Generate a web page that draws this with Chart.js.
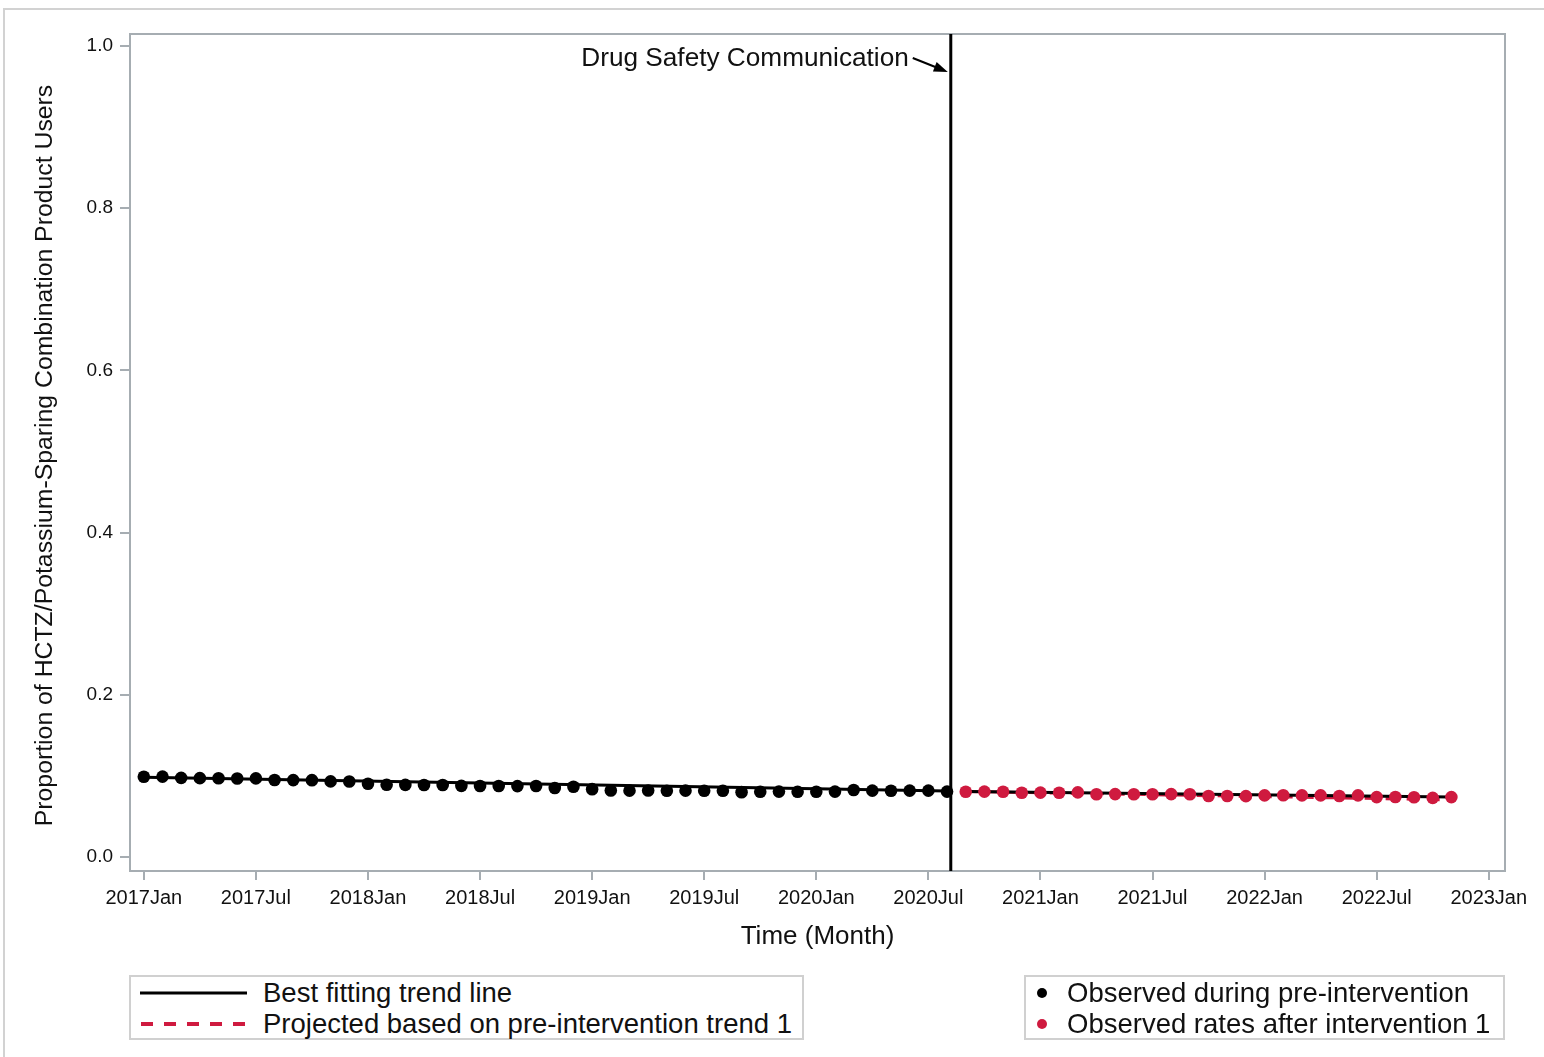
<!DOCTYPE html>
<html>
<head>
<meta charset="utf-8">
<title>HCTZ/Potassium-Sparing Combination Product Users</title>
<script src="https://cdn.jsdelivr.net/npm/chart.js@4.4.1/dist/chart.umd.min.js"></script>
<style>
  body { margin: 0; background: #fff; }
  #wrap { position: relative; width: 1544px; height: 1057px; overflow: hidden;
          font-family: "Liberation Sans", Arial, sans-serif; color: #111; }
  #c { position: absolute; left: 0; top: 0; }
  .outer { position: absolute; left: 3px; top: 8px; width: 1600px; height: 1100px;
           border-top: 2px solid #d2d2d2; border-left: 2px solid #d2d2d2; }
  .legend { position: absolute; box-sizing: border-box; border: 2px solid #d0d0d0; background: #fff; }
  .row { position: absolute; left: 0; height: 31px; line-height: 31px; font-size: 27.5px; white-space: nowrap; }
  .row svg { position: absolute; top: 0; }
  .row span { position: absolute; top: 0; }
</style>
</head>
<body>
<div id="wrap">
  <canvas id="c" width="1544" height="1057"></canvas>
  <div class="outer"></div>
  <div class="legend" id="legLines" style="left:129px;top:975px;width:675px;height:65px;"></div>
  <div class="legend" id="legDots" style="left:1024px;top:975px;width:481px;height:65px;"></div>
</div>
<script>
// Monthly proportions, months counted from 2017Jan
const preValues = [
  0.0990, 0.0991, 0.0975, 0.0972, 0.0970, 0.0968, 0.0969, 0.0950, 0.0948, 0.0947,
  0.0932, 0.0930, 0.0902, 0.0890, 0.0889, 0.0888, 0.0887, 0.0877, 0.0876, 0.0875,
  0.0874, 0.0875, 0.0850, 0.0866, 0.0836, 0.0820, 0.0818, 0.0819, 0.0817, 0.0818,
  0.0816, 0.0817, 0.0799, 0.0805, 0.0806, 0.0804, 0.0805, 0.0806, 0.0825, 0.0818,
  0.0817, 0.0818, 0.0818, 0.0806
];
const postValues = [
  0.0805, 0.0806, 0.0804, 0.0792, 0.0793, 0.0791, 0.0796, 0.0774, 0.0775, 0.0773,
  0.0774, 0.0775, 0.0773, 0.0751, 0.0752, 0.0750, 0.0760, 0.0761, 0.0759, 0.0760,
  0.0751, 0.0760, 0.0738, 0.0739, 0.0737, 0.0729, 0.0738
];
const preStartMonth = 0;    // 2017Jan
const postStartMonth = 44;  // 2020Sep

// Fitted segments: [start value, end value]
const preTrend = [0.0984, 0.0812];
const postTrend = [0.0806, 0.0740];
const projectedTrend = [0.0808, 0.0704];

const interventionMonth = 43.2;
const interventionLabel = 'Drug Safety Communication';

const xTickMonths = [0, 6, 12, 18, 24, 30, 36, 42, 48, 54, 60, 66, 72];
const xTickLabels = ['2017Jan', '2017Jul', '2018Jan', '2018Jul', '2019Jan', '2019Jul', '2020Jan',
                     '2020Jul', '2021Jan', '2021Jul', '2022Jan', '2022Jul', '2023Jan'];
const yTicks = [0.0, 0.2, 0.4, 0.6, 0.8, 1.0];

const xTitle = 'Time (Month)';
const yTitle = 'Proportion of HCTZ/Potassium-Sparing Combination Product Users';

const legendLines = ['Best fitting trend line', 'Projected based on pre-intervention trend 1'];
const legendDots = ['Observed during pre-intervention', 'Observed rates after intervention 1'];

const RED = '#cf1a3f';
const FRAME = '#a6adb2';
const FONT = '"Liberation Sans", Arial, sans-serif';

const prePoints = preValues.map((v, i) => ({ x: preStartMonth + i, y: v }));
const postPoints = postValues.map((v, i) => ({ x: postStartMonth + i, y: v }));
const preLast = preStartMonth + preValues.length - 1;
const postLast = postStartMonth + postValues.length - 1;

// Frame, axis titles, intervention marker
const decorations = {
  id: 'decorations',
  beforeDatasetsDraw(chart) {
    const { ctx, chartArea: a } = chart;
    ctx.save();
    ctx.strokeStyle = FRAME;
    ctx.lineWidth = 2;
    ctx.strokeRect(a.left, a.top, a.right - a.left, a.bottom - a.top);
    ctx.fillStyle = '#111';
    ctx.textAlign = 'center';
    ctx.textBaseline = 'middle';
    ctx.font = '26px ' + FONT;
    ctx.fillText(xTitle, (a.left + a.right) / 2, 937);
    ctx.translate(45, (a.top + a.bottom) / 2 + 3);
    ctx.rotate(-Math.PI / 2);
    ctx.font = '24.8px ' + FONT;
    ctx.fillText(yTitle, 0, 0);
    ctx.restore();
  },
  afterDatasetsDraw(chart) {
    const { ctx, chartArea: a, scales } = chart;
    const xp = scales.x.getPixelForValue(interventionMonth);
    ctx.save();
    ctx.strokeStyle = '#000';
    ctx.lineWidth = 3;
    ctx.beginPath();
    ctx.moveTo(xp, a.top);
    ctx.lineTo(xp, a.bottom);
    ctx.stroke();
    // arrow pointing at the line
    const tipX = xp - 3, tipY = scales.y.getPixelForValue(0.968);
    const sx = tipX - 35, sy = tipY - 14;
    const ang = Math.atan2(tipY - sy, tipX - sx);
    ctx.lineWidth = 2;
    ctx.beginPath();
    ctx.moveTo(sx, sy);
    ctx.lineTo(tipX - 10 * Math.cos(ang), tipY - 10 * Math.sin(ang));
    ctx.stroke();
    ctx.fillStyle = '#000';
    ctx.beginPath();
    ctx.moveTo(tipX, tipY);
    ctx.lineTo(tipX - 14 * Math.cos(ang) + 5 * Math.sin(ang), tipY - 14 * Math.sin(ang) - 5 * Math.cos(ang));
    ctx.lineTo(tipX - 14 * Math.cos(ang) - 5 * Math.sin(ang), tipY - 14 * Math.sin(ang) + 5 * Math.cos(ang));
    ctx.closePath();
    ctx.fill();
    ctx.fillStyle = '#111';
    ctx.font = '26.2px ' + FONT;
    ctx.textAlign = 'right';
    ctx.textBaseline = 'middle';
    ctx.fillText(interventionLabel, sx - 4, sy + 1);
    ctx.restore();
  }
};

new Chart(document.getElementById('c'), {
  type: 'scatter',
  data: {
    datasets: [
      { label: 'Observed during pre-intervention', data: prePoints, showLine: false,
        pointRadius: 6.3, pointBackgroundColor: '#000', pointBorderWidth: 0, order: 0 },
      { label: 'Observed rates after intervention 1', data: postPoints, showLine: false,
        pointRadius: 6.3, pointBackgroundColor: RED, pointBorderWidth: 0, order: 0 },
      { label: 'Projected based on pre-intervention trend 1',
        data: [{ x: postStartMonth, y: projectedTrend[0] }, { x: postLast, y: projectedTrend[1] }],
        showLine: true, borderColor: RED, borderWidth: 3, borderDash: [12, 9], pointRadius: 0, order: 2 },
      { label: 'Best fitting trend line',
        data: [{ x: preStartMonth, y: preTrend[0] }, { x: preLast, y: preTrend[1] }],
        showLine: true, borderColor: '#000', borderWidth: 3, pointRadius: 0, order: 1 },
      { label: 'Best fitting trend line (post)',
        data: [{ x: postStartMonth, y: postTrend[0] }, { x: postLast, y: postTrend[1] }],
        showLine: true, borderColor: '#000', borderWidth: 3, pointRadius: 0, order: 1 }
    ]
  },
  options: {
    responsive: false,
    animation: false,
    events: [],
    layout: { padding: { left: 0, right: 39, top: 34, bottom: 0 } },
    plugins: { legend: { display: false }, tooltip: { enabled: false } },
    scales: {
      x: {
        type: 'linear',
        min: -0.74, max: 72.87,
        afterBuildTicks: s => { s.ticks = xTickMonths.map(v => ({ value: v })); },
        afterFit: s => { s.height = 186; },
        grid: { display: true, drawOnChartArea: false, drawTicks: true, tickLength: 9,
                color: FRAME, lineWidth: 2 },
        border: { display: false },
        ticks: { padding: 6, color: '#111', font: { size: 20, family: FONT },
                 maxRotation: 0, autoSkip: false,
                 callback: v => xTickLabels[xTickMonths.indexOf(v)] }
      },
      y: {
        type: 'linear',
        min: -0.0173, max: 1.0148,
        afterBuildTicks: s => { s.ticks = yTicks.map(v => ({ value: v })); },
        afterFit: s => { s.width = 130; },
        grid: { display: true, drawOnChartArea: false, drawTicks: true, tickLength: 10,
                color: FRAME, lineWidth: 2 },
        border: { display: false },
        ticks: { padding: 7, color: '#111', font: { size: 19, family: FONT },
                 autoSkip: false, callback: v => v.toFixed(1) }
      }
    }
  },
  plugins: [decorations]
});

// Legend boxes
function addRow(box, top, sampleSvg, text, textLeft) {
  const row = document.createElement('div');
  row.className = 'row';
  row.style.top = top + 'px';
  row.style.width = '100%';
  row.innerHTML = sampleSvg + '<span style="left:' + textLeft + 'px">' + text + '</span>';
  box.appendChild(row);
}
const legL = document.getElementById('legLines');
addRow(legL, 0,
  '<svg width="130" height="31" style="left:0"><line x1="9" y1="16" x2="116" y2="16" stroke="#000" stroke-width="3"/></svg>',
  legendLines[0], 132);
addRow(legL, 31,
  '<svg width="130" height="31" style="left:0"><line x1="10" y1="16" x2="116" y2="16" stroke="' + RED + '" stroke-width="4" stroke-dasharray="12,11"/></svg>',
  legendLines[1], 132);
const legD = document.getElementById('legDots');
addRow(legD, 0,
  '<svg width="40" height="31" style="left:0"><circle cx="16" cy="16" r="5" fill="#000"/></svg>',
  legendDots[0], 41);
addRow(legD, 31,
  '<svg width="40" height="31" style="left:0"><circle cx="16" cy="16" r="5" fill="' + RED + '"/></svg>',
  legendDots[1], 41);
</script>
</body>
</html>
